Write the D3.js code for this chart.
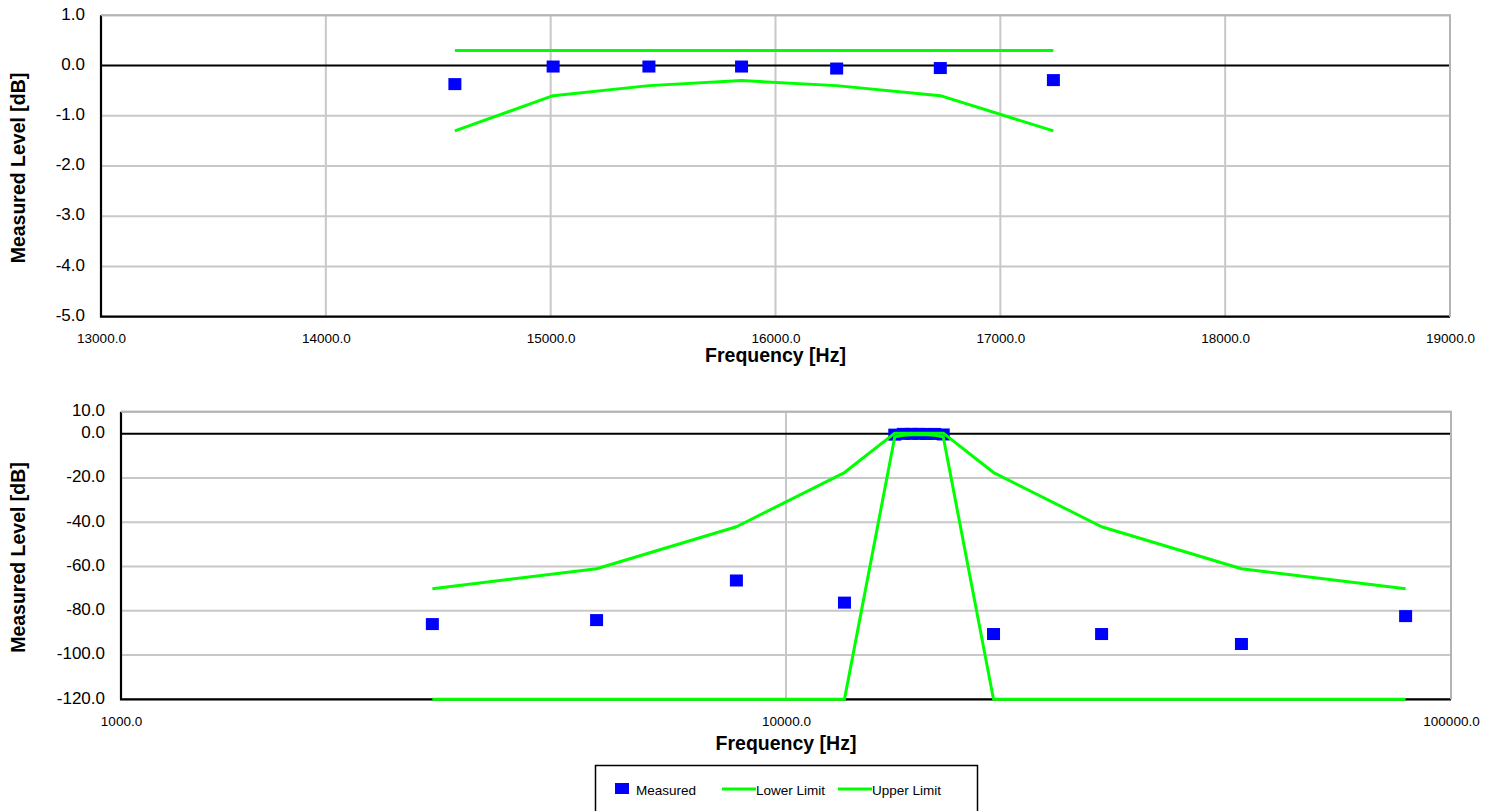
<!DOCTYPE html>
<html>
<head>
<meta charset="utf-8">
<script src="https://cdn.jsdelivr.net/npm/d3@7/dist/d3.min.js"></script>
<style>
  body{margin:0;background:#fff;}
  svg text{font-family:Arial,"Liberation Sans",sans-serif;fill:#000;}
</style>
</head>
<body>
<svg id="chart" width="1494" height="811"></svg>
<script>
// filter response, frequency in Hz, levels in dB
var freqHz = [2939, 5190, 8422, 12244, 14574, 15011, 15437, 15849, 16272, 16733, 17236, 20515, 29825, 48404, 85457];
var measured = [-86.0, -84.2, -66.3, -76.3, -0.37, -0.02, -0.02, -0.02, -0.06, -0.05, -0.29, -90.5, -90.5, -95.0, -82.4];
var lowerLimit = [-120, -120, -120, -120, -1.3, -0.6, -0.4, -0.3, -0.4, -0.6, -1.3, -120, -120, -120, -120];
var upperLimit = [-70, -61, -42, -17.5, 0.3, 0.3, 0.3, 0.3, 0.3, 0.3, 0.3, -17.5, -42, -61, -70];

// tick labels
var topXTicks = [13000, 14000, 15000, 16000, 17000, 18000, 19000];
var topYTicks = [1, 0, -1, -2, -3, -4, -5];
var botXTicks = [1000, 10000, 100000];
var botYTicks = [10, 0, -20, -40, -60, -80, -100, -120];

var legendNames = ["Measured", "Lower Limit", "Upper Limit"];

var green = "#00ff00", blue = "#0000ff", gridColor = "#c8c8c8";
var fmt = function(v){ return d3.format(".1f")(v).replace("\u2212", "-"); };
var svg = d3.select("#chart");

var rows = freqHz.map(function(f, i){
    return {f: f, m: measured[i], lo: lowerLimit[i], hi: upperLimit[i]};
});

function drawPanel(x, y, xTicks, yTicks, data, titleGap){
    var xr = x.range(), yr = y.range();
    var g = svg.append("g");

    // horizontal gridlines (zero line drawn later in black)
    g.selectAll(".hgrid")
        .data(yTicks.filter(function(d){ return d !== 0; }))
        .enter().append("line")
        .attr("x1", xr[0]).attr("x2", xr[1])
        .attr("y1", y).attr("y2", y)
        .attr("stroke", gridColor).attr("stroke-width", 2);

    // vertical gridlines
    g.selectAll(".vgrid")
        .data(xTicks.slice(1))
        .enter().append("line")
        .attr("x1", x).attr("x2", x)
        .attr("y1", yr[1]).attr("y2", yr[0])
        .attr("stroke", gridColor).attr("stroke-width", 2);

    // zero line
    g.append("line")
        .attr("x1", xr[0]).attr("x2", xr[1])
        .attr("y1", y(0)).attr("y2", y(0))
        .attr("stroke", "#000").attr("stroke-width", 2);

    // left + bottom axis lines
    g.append("path")
        .attr("d", "M" + xr[0] + "," + yr[1] + "V" + yr[0] + "H" + xr[1])
        .attr("fill", "none").attr("stroke", "#000").attr("stroke-width", 2.2);

    // tick labels
    var ya = g.append("g")
        .attr("transform", "translate(" + xr[0] + ",0)")
        .call(d3.axisLeft(y).tickValues(yTicks).tickSize(0).tickPadding(16).tickFormat(fmt));
    ya.select(".domain").remove();
    ya.selectAll("text").attr("font-size", 17).attr("dy", "0.22em")
        .style("font-family", "Arial, 'Liberation Sans', sans-serif");

    var xa = g.append("g")
        .attr("transform", "translate(0," + yr[0] + ")")
        .call(d3.axisBottom(x).tickValues(xTicks).tickSize(0).tickPadding(17).tickFormat(fmt));
    xa.select(".domain").remove();
    xa.selectAll("text").attr("font-size", 13.5)
        .style("font-family", "Arial, 'Liberation Sans', sans-serif");

    // axis titles
    g.append("text")
        .attr("x", (xr[0] + xr[1]) / 2)
        .attr("y", yr[0] + titleGap)
        .attr("text-anchor", "middle")
        .attr("font-size", 19.5).attr("font-weight", "bold")
        .text("Frequency [Hz]");

    g.append("text")
        .attr("transform", "translate(25," + ((yr[0] + yr[1]) / 2 + 2) + ") rotate(-90)")
        .attr("text-anchor", "middle")
        .attr("font-size", 19.5).attr("font-weight", "bold")
        .text("Measured Level [dB]");

    // measured markers
    g.selectAll(".pt")
        .data(data)
        .enter().append("rect")
        .attr("x", function(d){ return x(d.f) - 6.5; })
        .attr("y", function(d){ return y(d.m) - 6; })
        .attr("width", 13).attr("height", 12)
        .attr("fill", blue);

    // limit lines
    var lowLine = d3.line().x(function(d){ return x(d.f); }).y(function(d){ return y(d.lo); });
    var highLine = d3.line().x(function(d){ return x(d.f); }).y(function(d){ return y(d.hi); });

    g.append("path").attr("d", lowLine(data))
        .attr("fill", "none").attr("stroke", green).attr("stroke-width", 3).attr("stroke-linejoin", "round");
    g.append("path").attr("d", highLine(data))
        .attr("fill", "none").attr("stroke", green).attr("stroke-width", 3).attr("stroke-linejoin", "round");

    // top + right border
    g.append("path")
        .attr("d", "M" + xr[0] + "," + yr[1] + "H" + xr[1] + "V" + yr[0])
        .attr("fill", "none").attr("stroke", "#b4b4b4").attr("stroke-width", 2);
}

// top panel: passband, linear frequency
var xTop = d3.scaleLinear().domain([13000, 19000]).range([101, 1450]);
var yTop = d3.scaleLinear().domain([-5, 1]).range([316.7, 15.3]);
drawPanel(xTop, yTop, topXTicks, topYTicks, rows.filter(function(d){ return d.f >= 13000 && d.f <= 19000; }), 45);

// bottom panel: full range, log frequency
var xBot = d3.scaleLog().domain([1000, 100000]).range([121, 1451]);
var yBot = d3.scaleLinear().domain([-120, 10]).range([699.3, 411.7]);
drawPanel(xBot, yBot, botXTicks, botYTicks, rows, 51);

// legend
var legend = svg.append("g");
legend.append("rect")
    .attr("x", 595.5).attr("y", 765.5)
    .attr("width", 382).attr("height", 60)
    .attr("fill", "#fff").attr("stroke", "#000").attr("stroke-width", 1.5);

var legendX = [615, 722, 838];
legendNames.forEach(function(name, i){
    if(i === 0){
        legend.append("rect")
            .attr("x", legendX[i]).attr("y", 783)
            .attr("width", 14).attr("height", 11)
            .attr("fill", blue);
        legend.append("text").attr("x", 636).attr("y", 795)
            .attr("font-size", 13.5).text(name);
    }
    else{
        legend.append("line")
            .attr("x1", legendX[i]).attr("x2", legendX[i] + 34)
            .attr("y1", 789).attr("y2", 789)
            .attr("stroke", green).attr("stroke-width", 3);
        legend.append("text").attr("x", legendX[i] + 34).attr("y", 795)
            .attr("font-size", 13.5).text(name);
    }
});
</script>
</body>
</html>
